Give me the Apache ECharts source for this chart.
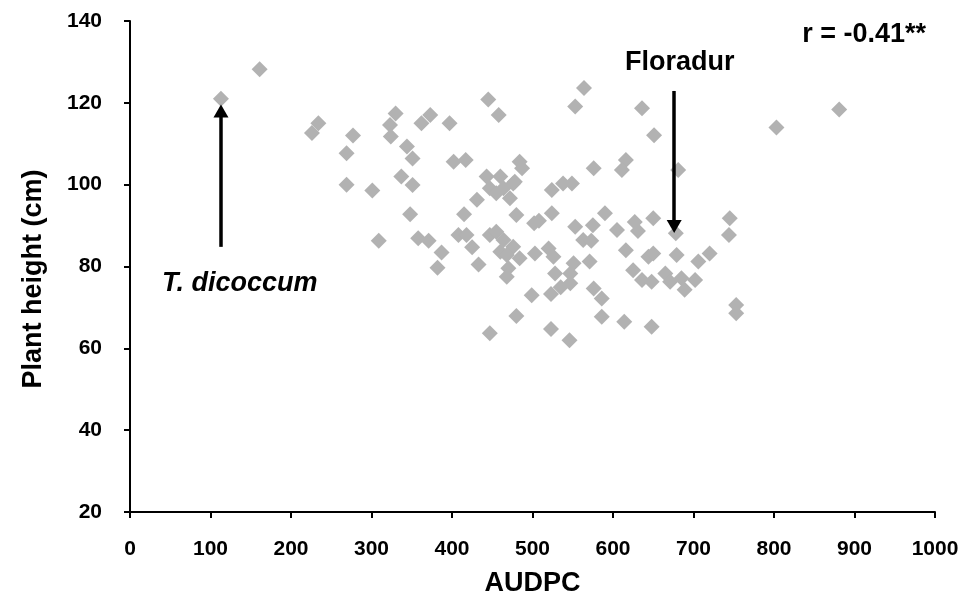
<!DOCTYPE html>
<html>
<head>
<meta charset="utf-8">
<title>AUDPC vs plant height</title>
<script src="https://cdn.jsdelivr.net/npm/echarts@6/dist/echarts.min.js"></script>
<style>
  html, body { margin: 0; padding: 0; background: #fff; }
  #chart { width: 974px; height: 606px; }
</style>
</head>
<body>
<div id="chart"></div>
<script>
// AUDPC (x) and plant height in cm (y), one entry per genotype
const audpc = [
  113, 161, 234, 226, 277, 269, 269, 301, 330, 323, 324, 344, 351, 337, 351,
  373, 362, 397, 445, 458, 402, 417, 309, 348, 358, 371, 387, 382, 415, 431,
  408, 418, 425, 433, 443, 460, 447, 464, 476, 472, 455, 447, 455, 464, 476,
  460, 468, 480, 484, 487, 478, 502, 508, 524, 524, 538, 549, 484, 470, 468,
  480, 447, 499, 523, 535, 547, 523, 546, 503, 520, 526, 528, 547, 551, 553,
  563, 575, 573, 571, 576, 586, 586, 590, 564, 553, 576, 616, 611, 605, 627,
  631, 616, 625, 614, 636, 651, 681, 803, 881, 650, 678, 745, 744, 644, 650,
  679, 706, 720, 636, 648, 665, 671, 685, 702, 689, 753, 753, 648
]
const plantHeight = [
  121.0, 128.2, 115.0, 112.6, 112.0, 107.7, 100.0, 98.6, 117.4, 114.6, 111.8, 109.3, 106.4, 102.0, 99.9,
  117.0, 115.0, 115.0, 120.8, 117.0, 105.6, 106.0, 86.3, 92.8, 86.9, 86.3, 83.4, 79.7, 92.8, 96.3,
  87.7, 87.7, 84.7, 80.5, 102.0, 102.0, 99.1, 99.1, 100.3, 96.7, 97.9, 87.7, 88.5, 86.5, 84.8,
  83.6, 82.8, 92.6, 105.6, 104.0, 100.7, 90.6, 91.2, 93.0, 98.7, 100.3, 100.3, 82.0, 79.6, 77.5,
  67.9, 63.7, 73.0, 73.3, 74.9, 75.9, 64.7, 62.0, 83.2, 84.4, 82.4, 78.3, 78.3, 80.8, 89.7,
  86.5, 90.1, 86.3, 81.2, 74.6, 72.2, 67.7, 93.0, 123.6, 119.1, 104.0, 106.0, 103.6, 88.9, 90.9,
  88.7, 84.0, 79.1, 66.5, 118.7, 112.1, 103.6, 114.0, 118.4, 91.8, 88.1, 91.8, 87.7, 82.4, 83.2,
  82.8, 81.2, 83.2, 76.7, 76.3, 78.3, 76.3, 77.1, 76.7, 74.3, 70.6, 68.6, 65.3
]

// arrows: [x, yFrom, yTo] in data units
const floradurArrow = [676, 122.9, 89.8]
const dicoccumArrow = [113, 84.8, 118.0]

const correlationText = 'r = -0.41**'

const FONT = "'Liberation Sans', Arial, sans-serif"

const chart = echarts.init(document.getElementById('chart'))

const points = audpc.map((x, i) => [x, plantHeight[i]])

const arrowLine = (a) => [
  { coord: [a[0], a[1]], symbol: 'none' },
  { coord: [a[0], a[2]], symbol: 'triangle', symbolSize: [15, 13] }
]

const option = {
  animation: false,
  backgroundColor: '#fff',
  grid: {
    left: 130,
    right: 39,
    top: 21,
    bottom: 94
  },
  xAxis: {
    type: 'value',
    min: 0,
    max: 1000,
    interval: 100,
    name: 'AUDPC',
    nameLocation: 'middle',
    nameGap: 58,
    nameTextStyle: {
      fontFamily: FONT,
      fontSize: 27,
      fontWeight: 'bold',
      color: '#000'
    },
    axisLine: { lineStyle: { color: '#000', width: 2 } },
    axisTick: { show: true, inside: false, length: 6, lineStyle: { color: '#000', width: 2 } },
    axisLabel: {
      margin: 27,
      fontFamily: FONT,
      fontSize: 21,
      fontWeight: 'bold',
      color: '#000',
      formatter: (v) => String(v)
    },
    splitLine: { show: false }
  },
  yAxis: {
    type: 'value',
    min: 20,
    max: 140,
    interval: 20,
    axisLine: { show: true, lineStyle: { color: '#000', width: 2 } },
    axisTick: { show: true, inside: false, length: 6, lineStyle: { color: '#000', width: 2 } },
    axisLabel: {
      margin: 28,
      fontFamily: FONT,
      fontSize: 21,
      fontWeight: 'bold',
      color: '#000',
      formatter: (v) => String(v)
    },
    splitLine: { show: false }
  },
  graphic: [
    {
      type: 'text',
      x: 34,
      y: 279,
      rotation: Math.PI / 2,
      style: {
        text: 'Plant height (cm)',
        fontFamily: FONT,
        fontSize: 27,
        fontWeight: 'bold',
        fill: '#000',
        textAlign: 'center',
        textVerticalAlign: 'middle'
      }
    },
    {
      type: 'text',
      x: 926,
      y: 35,
      style: {
        text: correlationText,
        fontFamily: FONT,
        fontSize: 27,
        fontWeight: 'bold',
        fill: '#000',
        textAlign: 'right',
        textVerticalAlign: 'middle'
      }
    },
    {
      type: 'text',
      x: 625,
      y: 63,
      style: {
        text: 'Floradur',
        fontFamily: FONT,
        fontSize: 27,
        fontWeight: 'bold',
        fill: '#000',
        textAlign: 'left',
        textVerticalAlign: 'middle'
      }
    },
    {
      type: 'text',
      x: 162,
      y: 284,
      style: {
        text: 'T. dicoccum',
        fontFamily: FONT,
        fontSize: 27,
        fontWeight: 'bold',
        fontStyle: 'italic',
        fill: '#000',
        textAlign: 'left',
        textVerticalAlign: 'middle'
      }
    }
  ],
  series: [
    {
      type: 'scatter',
      data: points,
      symbol: 'diamond',
      symbolSize: 16,
      itemStyle: {
        color: '#b2b2b2',
        opacity: 1
      },
      silent: true,
      markLine: {
        silent: true,
        animation: false,
        label: { show: false },
        lineStyle: { color: '#000', width: 3.5, type: 'solid' },
        itemStyle: { color: '#000' },
        emphasis: { disabled: true },
        data: [arrowLine(floradurArrow), arrowLine(dicoccumArrow)]
      }
    }
  ]
}

chart.setOption(option)

window.addEventListener('resize', () => chart.resize())
</script>
</body>
</html>
